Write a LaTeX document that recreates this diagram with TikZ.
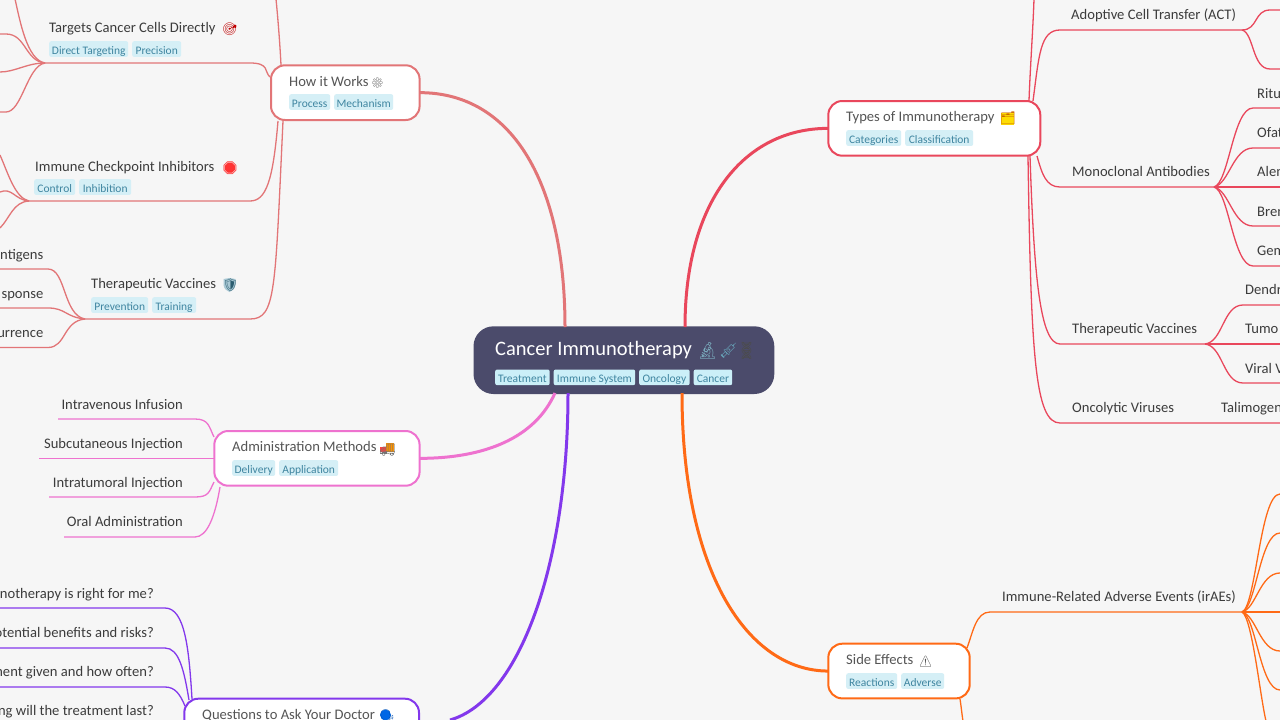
\documentclass[tikz,border=0pt]{standalone}
\usepackage{fontspec}
\setmainfont{Carlito}
\newfontfamily\emo{Noto Emoji}
\definecolor{bgc}{HTML}{F6F6F6}
\definecolor{darkc}{HTML}{4B4B6B}
\definecolor{howc}{HTML}{E27577}
\definecolor{typc}{HTML}{E9475C}
\definecolor{admc}{HTML}{EE72CF}
\definecolor{queC}{HTML}{8338EC}
\definecolor{sidc}{HTML}{FF6A16}
\definecolor{txtc}{HTML}{3C3C3C}
\definecolor{ttlc}{HTML}{555555}
\definecolor{tagf}{HTML}{D5EFF6}
\definecolor{tagF}{HTML}{CBEFF8}
\definecolor{tagt}{HTML}{3F85A0}
\newcommand\fs[1]{\fontsize{#1}{#1}\selectfont}
\tikzset{
 boxn/.style={draw,line width=2pt,fill=white,rounded corners=14pt,anchor=north west,inner sep=0pt,outer sep=0pt},
 ttl/.style={anchor=base west,inner sep=0pt,text=ttlc,font=\fs{14.6},yshift=-0.3pt},
 leaf/.style={anchor=base west,inner sep=0pt,text=txtc,font=\fs{14.6},yshift=-0.5pt},
 leafr/.style={anchor=base east,inner sep=0pt,text=txtc,font=\fs{14.6},yshift=-0.5pt},
 tagn/.style={anchor=north west,inner sep=0pt,fill=tagf,text=tagt,rounded corners=2pt,minimum height=15.7pt,text height=10pt,text depth=0pt,font=\fs{11.5}},
 emj/.style={anchor=base west,inner sep=0pt,font=\emo\fs{12.5}},
 thin/.style={line width=1.3pt},
 main/.style={line width=3pt},
}
\newcommand\tagb[5]{\pgfmathsetlengthmacro\tw{(#3-#2)*1pt}\node[tagn,minimum width=\tw] (#1) at (#2,#4) {#5};}
\begin{document}
\begin{tikzpicture}[x=1pt,y=-1pt]
\useasboundingbox (0,0) rectangle (1280,720);
\clip (0,0) rectangle (1280,720);
\fill[bgc] (0,0) rectangle (1280,720);

% named connector ends
\foreach \n/\x/\y in {
 cHow/565/327, cTyp/685/327, cAdm/555/393, cQue/568/393, cSid/682/393,
 qEnd/450/720,
 howTop/276/-1, hT/281/65, hTa/270/77, hIm/278/121, hTh/283/121,
 hubTa/45/63, hubIm/29/201, hubTh/85/319,
 ta1/15/-1, ta2/0/34, ta3/0/72, ta4/0/112,
 im1/0/155, im2/0/192, im3/0/228,
 th1/0/269, th2/0/308, th3/0/347.5,
 aTop/214/437, aMid/214/458.5, aLow/214/482, aOra/220/487,
 a1/58/419, a2/39/458.5, a3/49/497, a4/64/537,
 qA/192/699, qB/189/700, qC/185/706,
 q1/0/608, q2/0/648, q3/0/687,
 tTop/1029/101, tAct/1033/101, tMon/1037/156, tVac/1030/156, tOnc/1028/156,
 tTopEnd/1034/-1,
 hubAct/1242/30, hubMon/1214/187, hubVac/1205/344,
 ac1/1281/10, ac2/1281/69,
 mo1/1281/108, mo2/1281/148, mo3/1281/187, mo4/1281/226, mo5/1281/266,
 va1/1281/305, va2/1281/344, va3/1281/383, on1/1281/423,
 sUp/967/648, sLow/960/699, sLowEnd/963/721,
 hubIr/1242/612,
 ir1/1281/494, ir2/1281/533, ir3/1281/573, ir4/1281/612, ir5/1281/651, ir6/1281/690, ir7/1266/721
}{\coordinate (\n) at (\x,\y);}

% How it works sub-branches
\begin{scope}[thin,howc]
\draw (hT) .. controls +(-1,-20) and +(2,20) .. (howTop);
\draw (hTa) .. controls +(-6,-5) and +(20,0) .. (250,63) -- (hubTa);
\draw (hIm) .. controls +(-5,60) and +(16,0) .. (250,201) -- (hubIm);
\draw (hTh) .. controls +(-8,170) and +(26,0) .. (250,319) -- (hubTh);
\draw (hubTa) .. controls +(-18,-3) and +(5,22) .. (ta1);
\draw (hubTa) .. controls +(-20,-2) and +(20,0) .. (6,34) -- (ta2);
\draw (hubTa) .. controls +(-18,0) and +(15,0) .. (ta3);
\draw (hubTa) .. controls +(-18,3) and +(16,0) .. (6,112) -- (ta4);
\draw (hubIm) .. controls +(-14,-3) and +(8,18) .. (im1);
\draw (hubIm) .. controls +(-14,-1) and +(12,-5) .. (im2);
\draw (hubIm) .. controls +(-16,1) and +(10,-10) .. (im3);
\draw (hubTh) .. controls +(-22,-4) and +(18,0) .. (48,269) -- (th1);
\draw (hubTh) .. controls +(-20,-2) and +(18,0) .. (48,308) -- (th2);
\draw (hubTh) .. controls +(-22,2) and +(18,0) .. (48,347.5) -- (th3);
\end{scope}

% Administration
\begin{scope}[thin,admc]
\draw (aTop) .. controls +(-5,-10) and +(14,0) .. (195,419) -- (a1);
\draw (aMid) -- (a2);
\draw (aLow) .. controls +(-5,10) and +(14,0) .. (195,497) -- (a3);
\draw (aOra) .. controls +(-5,30) and +(12,0) .. (195,537) -- (a4);
\end{scope}

% Questions
\begin{scope}[thin,queC]
\draw (qA) .. controls +(-3,-50) and +(20,0) .. (165,608) -- (q1);
\draw (qB) .. controls +(-5,-30) and +(14,0) .. (165,648) -- (q2);
\draw (qC) .. controls +(-5,-12) and +(10,0) .. (165,687) -- (q3);
\end{scope}

% Types
\begin{scope}[thin,typc]
\draw (tTop) .. controls +(1,-30) and +(-1,30) .. (tTopEnd);
\draw (tAct) .. controls +(6,-45) and +(-20,0) .. (1060,30) -- (hubAct);
\draw (tMon) .. controls +(5,18) and +(-14,0) .. (1060,187) -- (hubMon);
\draw (tVac) .. controls +(4,120) and +(-20,0) .. (1060,344) -- (hubVac);
\draw (tOnc) .. controls +(3,200) and +(-25,0) .. (1060,423) -- (on1);
\draw (hubAct) .. controls +(16,0) and +(-16,0) .. (1270,10) -- (ac1);
\draw (hubAct) .. controls +(12,3) and +(-18,0) .. (1270,69) -- (ac2);
\draw (hubMon) .. controls +(15,-4) and +(-20,0) .. (1253,108) -- (mo1);
\draw (hubMon) .. controls +(15,-3) and +(-20,0) .. (1253,148) -- (mo2);
\draw (hubMon) -- (mo3);
\draw (hubMon) .. controls +(15,3) and +(-20,0) .. (1253,226) -- (mo4);
\draw (hubMon) .. controls +(15,4) and +(-20,0) .. (1253,266) -- (mo5);
\draw (hubVac) .. controls +(18,-2) and +(-20,0) .. (1243,305) -- (va1);
\draw (hubVac) -- (va2);
\draw (hubVac) .. controls +(18,2) and +(-20,0) .. (1243,383) -- (va3);
\end{scope}

% Side effects
\begin{scope}[thin,sidc]
\draw (sUp) .. controls +(6,-16) and +(-14,0) .. (990,612) -- (hubIr);
\draw (sLow) .. controls +(1,6) and +(-1,-6) .. (sLowEnd);
\draw (hubIr) .. controls +(14,-5) and +(-20,0) .. (1280,494) -- (ir1);
\draw (hubIr) .. controls +(14,-4) and +(-20,0) .. (1280,533) -- (ir2);
\draw (hubIr) .. controls +(14,-3) and +(-20,0) .. (1280,573) -- (ir3);
\draw (hubIr) -- (ir4);
\draw (hubIr) .. controls +(14,3) and +(-20,0) .. (1280,651) -- (ir5);
\draw (hubIr) .. controls +(14,4) and +(-20,0) .. (1280,690) -- (ir6);
\draw (hubIr) .. controls +(10,5) and +(-6,-25) .. (ir7);
\end{scope}

% named boxes
\node[boxn,draw=howc,minimum width=148.6pt,minimum height=54.7pt] (how) at (271,65.3) {};
\node[boxn,draw=admc,minimum width=205.3pt,minimum height=54.7pt] (adm) at (214.3,431) {};
\node[boxn,draw=queC,minimum width=234.7pt,minimum height=54.7pt] (que) at (184.3,698.7) {};
\node[boxn,draw=typc,minimum width=212pt,minimum height=54.7pt] (typ) at (828.3,101) {};
\node[boxn,draw=sidc,minimum width=141.4pt,minimum height=54.7pt] (sid) at (828.3,643.7) {};
\node[boxn,draw=none,fill=darkc,rounded corners=20pt,minimum width=300.8pt,minimum height=67.7pt] (central) at (473.5,326.3) {};

% main connectors
\begin{scope}[main]
\draw[howc] (cHow) .. controls +(0,-140) and +(95,0) .. (how.east);
\draw[typc] (cTyp) .. controls +(0,-125) and +(-85,0) .. (typ.west);
\draw[admc] (cAdm) .. controls +(-20,45) and +(65,0) .. (adm.east);
\draw[queC] (cQue) .. controls +(0,170) and +(70,-20) .. (qEnd);
\draw[sidc] (cSid) .. controls +(0,180) and +(-80,0) .. (sid.west);
\end{scope}

% central
\node[anchor=base west,inner sep=0pt,text=white,font=\fs{20.5}] (tC) at (495,355) {Cancer Immunotherapy};
\node[emj,text=tagt!70!white,font=\emo\fs{16.5}] (e1) at (697,356) {🔬};
\node[emj,text=tagt!80!white,font=\emo\fs{16.5}] (e2) at (718,356) {💉};
\node[emj,text=black!70,font=\emo\fs{16.5}] (e3) at (736,356) {🧬};
\tikzset{tagn/.append style={fill=tagF}}
\tagb{t1}{495}{549.5}{369.3}{Treatment}
\tagb{t2}{553.5}{635}{369.3}{Immune System}
\tagb{t3}{639}{689.5}{369.3}{Oncology}
\tagb{t4}{693.5}{732}{369.3}{Cancer}
\tikzset{tagn/.append style={fill=tagf}}

% how
\node[ttl] (tHow) at (289,86) {How it Works};
\node[emj,text=black!65,font=\emo\fs{10}] (eHow) at (371,86) {⚙};
\tagb{tg1}{289}{330}{94}{Process}
\tagb{tg2}{334}{393}{94}{Mechanism}

\node[leaf] (lTa) at (49,32) {Targets Cancer Cells Directly};
\node[emj,text=red!75!black] (eTa) at (222,34) {🎯};
\tagb{tg3}{49}{128}{41}{Direct Targeting}
\tagb{tg4}{132}{181}{41}{Precision}

\node[leaf] (lIm) at (35,171) {Immune Checkpoint Inhibitors};
\node[emj,text=red!80!white] (eIm) at (222,172) {🛑};
\tagb{tg5}{34}{75}{179}{Control}
\tagb{tg6}{79}{131}{179}{Inhibition}

\node[leaf] (lTh) at (91,288) {Therapeutic Vaccines};
\fill[tagt!45!white] (223.5,279) -- (229.5,278) -- (235.5,279) -- (235.5,285) .. controls (235,289) and (232,291) .. (229.5,292) .. controls (227,291) and (224,289) .. (223.5,285) -- cycle;
\node[emj,text=tagt!70!black] (eTh) at (222.5,289.5) {🛡};
\tagb{tg7}{91}{148}{297}{Prevention}
\tagb{tg8}{152}{196}{297}{Training}

\node[leafr] (l1) at (43.5,259) {ntigens};
\node[leafr] (l2) at (43.5,298) {sponse};
\node[leafr] (l3) at (43.5,337) {urrence};

% administration
\node[ttl] (tAdm) at (232,451) {Administration Methods};
\fill[orange!85!yellow] (386,443) rectangle (394,452);
\fill[red!75!white] (380,447) rectangle (386,452);
\node[emj,text=black!55] (eAdm) at (379.5,454) {🚚};
\tagb{tg9}{232}{275}{460}{Delivery}
\tagb{tg10}{279}{338}{460}{Application}
\node[leafr] (a1t) at (183,409) {Intravenous Infusion};
\node[leafr] (a2t) at (183,448) {Subcutaneous Injection};
\node[leafr] (a3t) at (183,487) {Intratumoral Injection};
\node[leafr] (a4t) at (183,526) {Oral Administration};

% questions
\node[ttl] (tQue) at (202,719) {Questions to Ask Your Doctor};
\fill[blue!55!cyan!90!black] (385.5,715) circle (5.5pt);
\node[emj,text=blue!55!cyan!70!black] (eQue) at (379,720) {🗣};
\node[leafr] (q1t) at (154,598) {notherapy is right for me?};
\node[leafr] (q2t) at (154,637) {otential benefits and risks?};
\node[leafr] (q3t) at (154,676) {ment given and how often?};
\node[leafr] (q4t) at (154,715) {ng will the treatment last?};

% types
\node[ttl] (tTyp) at (846,121) {Types of Immunotherapy};
\fill[yellow!80!orange] (1001,113) rectangle (1014,125);
\node[emj,text=orange!80!black] (eTyp) at (1000,122.5) {🗂};
\tagb{tg11}{846}{901}{130}{Categories}
\tagb{tg12}{905}{973}{130}{Classification}
\node[leaf] (lAc) at (1071,19) {Adoptive Cell Transfer (ACT)};
\node[leaf] (lMo) at (1072,176) {Monoclonal Antibodies};
\node[leaf] (lVa) at (1072,333) {Therapeutic Vaccines};
\node[leaf] (lOn) at (1072,412) {Oncolytic Viruses};
\node[leaf] (lTal) at (1221,412) {Talimogen};
\node[leaf] (m1) at (1257,98) {Ritu};
\node[leaf] (m2) at (1257,137) {Ofat};
\node[leaf] (m3) at (1257,176) {Alen};
\node[leaf] (m4) at (1257,216) {Bren};
\node[leaf] (m5) at (1257,255) {Gem};
\node[leaf] (v1) at (1245,294) {Dendr};
\node[leaf] (v2) at (1245,333) {Tumo};
\node[leaf] (v3) at (1245,373) {Viral V};

% side effects
\node[ttl] (tSid) at (846,664) {Side Effects};
\node[emj,text=black!70,font=\emo\fs{11}] (eSid) at (918.5,665) {⚠};
\tagb{tg13}{846}{897}{673}{Reactions}
\tagb{tg14}{901}{944}{673}{Adverse}
\node[leafr] (lIr) at (1236,601) {Immune-Related Adverse Events (irAEs)};
\end{tikzpicture}
\end{document}
